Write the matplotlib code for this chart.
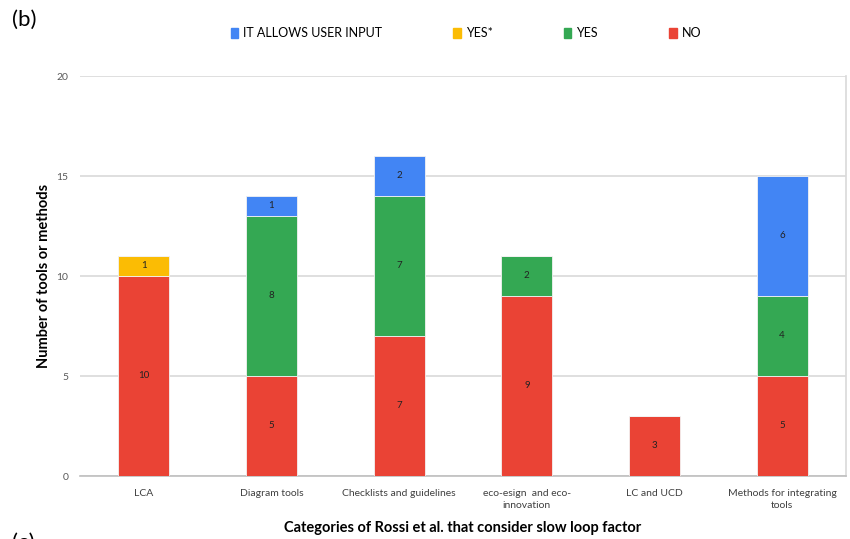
import matplotlib
matplotlib.use("Agg")
from matplotlib import pyplot as plt
from matplotlib.patches import Patch
import numpy as np

plt.rcParams['font.family'] = ['Lato', 'DejaVu Sans']

categories = ['LCA', 'Diagram tools', 'Checklists and guidelines',
              'eco-esign  and eco-\ninnovation', 'LC and UCD',
              'Methods for integrating\ntools']
no_vals = [10, 5, 7, 9, 3, 5]
yes_vals = [0, 8, 7, 2, 0, 4]
yes_star_vals = [1, 0, 0, 0, 0, 0]
user_input_vals = [0, 1, 2, 0, 0, 6]

series = [('NO', no_vals, '#EA4335'),
          ('YES', yes_vals, '#34A853'),
          ('YES*', yes_star_vals, '#FBBC04'),
          ('IT ALLOWS USER INPUT', user_input_vals, '#4285F4')]

fig = plt.figure(figsize=(8.5, 5.39), dpi=100)
ax = fig.add_axes([80/850, 1 - 476/539, 766/850, 400/539])

x = np.arange(len(categories))
bottom = np.zeros(len(categories))
for name, vals, col in series:
    vals = np.array(vals, dtype=float)
    bars = ax.bar(x, vals, 0.4, bottom=bottom, color=col,
                  edgecolor='#f2f2f2', linewidth=0.6, zorder=3)
    for b, v, b0 in zip(bars, vals, bottom):
        if v > 0:
            ax.text(b.get_x() + b.get_width() / 2, b0 + v / 2, '%d' % v,
                    ha='center', va='center', fontsize=7, color='#222222', zorder=4)
    bottom += vals

ax.set_xlim(-0.5, len(categories) - 0.5)
ax.set_ylim(0, 20)
ax.set_yticks([0, 5, 10, 15, 20])
ax.yaxis.grid(True, color='#d9d9d9', linewidth=1.2, zorder=0)
ax.set_xticks(x)
ax.set_xticklabels(categories, fontsize=7.5, color='#404040', linespacing=1.5)
ax.tick_params(axis='y', length=0, pad=8.5, labelsize=7.5, labelcolor='#595959')
ax.tick_params(axis='x', length=0, pad=9)

for s in ['top', 'left']:
    ax.spines[s].set_visible(False)
ax.spines['bottom'].set_color('#bfbfbf')
ax.spines['bottom'].set_linewidth(1.2)
ax.spines['right'].set_color('#d9d9d9')
ax.spines['right'].set_linewidth(1.2)

ax.set_ylabel('Number of tools or methods', fontsize=10.5, fontweight='bold')
ax.yaxis.set_label_coords(-29/766, 0.5)
ax.set_xlabel('Categories of Rossi et al. that consider slow loop factor',
              fontsize=10.5, fontweight='bold', labelpad=8)

# legend runs in reverse stacking order, as in the source chart
handles = [Patch(color=c, label=n) for n, v, c in reversed(series)]
fig.legend(handles=handles, loc='center', bbox_to_anchor=(466/850, 1 - 33/539),
           ncol=4, frameon=False, fontsize=9, handlelength=0.6, handleheight=0.9,
           handletextpad=0.4, columnspacing=5.7)

fig.text(12/850, 1 - 20/539, '(b)', fontsize=16, va='center', ha='left')
fig.text(12/850, 1 - 533/539, '(c)', fontsize=16, va='top', ha='left')

plt.savefig('out.png', dpi=100)
